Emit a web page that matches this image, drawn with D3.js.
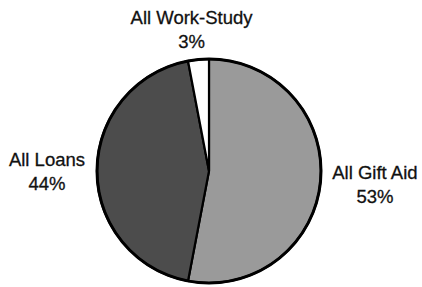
<!DOCTYPE html>
<html>
<head>
<meta charset="utf-8">
<script src="https://cdn.jsdelivr.net/npm/d3@7"></script>
<style>
  html, body { margin: 0; padding: 0; background: #ffffff; }
  svg { display: block; }
</style>
</head>
<body>
<script>
// Data
const categories = ["All Gift Aid", "All Loans", "All Work-Study"];
const values = [53, 44, 3];
const percentLabels = ["53%", "44%", "3%"];
const colors = ["#9a9a9a", "#4c4c4c", "#ffffff"];

const W = 422, H = 287;
const cx = 209, cy = 171, R = 112;

const svg = d3.select("body").append("svg")
  .attr("width", W).attr("height", H);

const data = categories.map((c, i) => ({ name: c, value: values[i], pct: percentLabels[i], color: colors[i] }));

const pie = d3.pie().value(d => d.value).sort(null);
const arcs = pie(data);
const arc = d3.arc().innerRadius(0).outerRadius(R);

const g = svg.append("g").attr("transform", `translate(${cx},${cy})`);

g.selectAll("path.slice")
  .data(arcs)
  .enter().append("path")
  .attr("class", "slice")
  .attr("d", arc)
  .attr("fill", d => d.data.color)
  .attr("stroke", "#000")
  .attr("stroke-width", 2.2)
  .attr("stroke-linejoin", "round");

// outer ring thicker
g.append("circle").attr("r", R).attr("fill", "none").attr("stroke", "#000").attr("stroke-width", 3);

// Labels
const fontSize = 18.5, lineGap = 24, capH = fontSize * 0.716, gap = 12;
arcs.forEach(a => {
  const mid = (a.startAngle + a.endAngle) / 2;
  const s = Math.sin(mid), c = Math.cos(mid);
  const px = s * (R + gap), py = -c * (R + gap);
  const t = g.append("text")
    .attr("font-family", "'Liberation Sans', Arial, Helvetica, sans-serif")
    .attr("font-size", fontSize)
    .attr("fill", "#111")
    .attr("stroke", "#111")
    .attr("stroke-width", 0.3)
    .attr("text-anchor", "middle");
  const l1 = t.append("tspan").attr("x", 0).attr("y", 0).text(a.data.name);
  const l2 = t.append("tspan").attr("x", 0).attr("y", lineGap).text(a.data.pct);
  const w = Math.max(l1.node().getComputedTextLength(), l2.node().getComputedTextLength());
  const h = capH + lineGap;
  const bx = px + s * w / 2;
  const by = py - c * h / 2;
  const top = by - h / 2;
  l1.attr("x", bx).attr("y", top + capH);
  l2.attr("x", bx).attr("y", top + capH + lineGap);
});
</script>
</body>
</html>
